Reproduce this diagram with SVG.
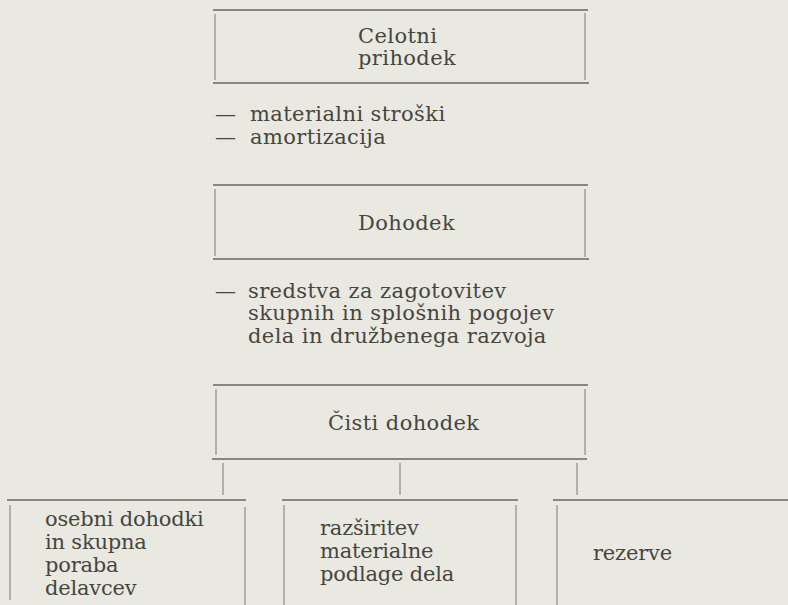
<svg xmlns="http://www.w3.org/2000/svg" width="788" height="605" viewBox="0 0 788 605">
<style>
  .bg { fill: #eae9e1; }
  .h { stroke: #66665f; stroke-width: 1.3; fill: none; }
  .v { stroke: #7a7a73; stroke-width: 1; fill: none; }
  .t { font-family: "DejaVu Serif", "Liberation Serif", serif; font-size: 21px; fill: #46463f; letter-spacing: 0.4px; }
  .s { font-family: "DejaVu Serif", "Liberation Serif", serif; font-size: 21px; fill: #46463f; letter-spacing: -0.2px; }
</style>
<rect class="bg" x="0" y="0" width="788" height="605"/>

<g id="celotni-prihodek">
  <line class="h" x1="213" y1="10" x2="588" y2="10"/>
  <line class="v" x1="215" y1="14" x2="215" y2="80"/>
  <line class="v" x1="585" y1="13" x2="585" y2="80"/>
  <line class="h" x1="213" y1="83" x2="589" y2="83"/>
  <text class="t" x="358" y="43">Celotni</text>
  <text class="t" x="358" y="65">prihodek</text>
</g>

<g id="odbitki-1">
  <text class="t" x="215" y="121">—<tspan x="250">materialni stroški</tspan></text>
  <text class="t" x="215" y="144">—<tspan x="250">amortizacija</tspan></text>
</g>

<g id="dohodek">
  <line class="h" x1="213" y1="185" x2="588" y2="185"/>
  <line class="v" x1="215" y1="189" x2="215" y2="256"/>
  <line class="v" x1="585" y1="189" x2="585" y2="257"/>
  <line class="h" x1="213" y1="259" x2="589" y2="259"/>
  <text class="t" x="358" y="230">Dohodek</text>
</g>

<g id="odbitki-2">
  <text class="t" x="215" y="298">—<tspan x="248">sredstva za zagotovitev</tspan></text>
  <text class="t" x="248" y="320">skupnih in splošnih pogojev</text>
  <text class="t" x="248" y="343">dela in družbenega razvoja</text>
</g>

<g id="cisti-dohodek">
  <line class="h" x1="213" y1="385" x2="588" y2="385"/>
  <line class="v" x1="216" y1="389" x2="216" y2="455"/>
  <line class="v" x1="585" y1="389" x2="585" y2="455"/>
  <line class="h" x1="212" y1="459" x2="587" y2="459"/>
  <text class="t" x="328" y="430">Čisti dohodek</text>
</g>

<g id="connectors">
  <line class="v" x1="223" y1="463" x2="223" y2="495"/>
  <line class="v" x1="400" y1="463" x2="400" y2="495"/>
  <line class="v" x1="577" y1="463" x2="577" y2="495"/>
</g>

<g id="osebni-dohodki">
  <line class="h" x1="7" y1="500" x2="246" y2="500"/>
  <line class="v" x1="10" y1="505" x2="10" y2="600"/>
  <line class="v" x1="245" y1="507" x2="245" y2="605"/>
  <text class="s" x="45" y="526">osebni dohodki</text>
  <text class="s" x="45" y="549">in skupna</text>
  <text class="s" x="45" y="572">poraba</text>
  <text class="s" x="45" y="595">delavcev</text>
</g>

<g id="razsiritev">
  <line class="h" x1="282" y1="500" x2="518" y2="500"/>
  <line class="v" x1="284" y1="505" x2="284" y2="605"/>
  <line class="v" x1="516" y1="505" x2="516" y2="605"/>
  <text class="s" x="320" y="535">razširitev</text>
  <text class="s" x="320" y="558">materialne</text>
  <text class="s" x="320" y="581">podlage dela</text>
</g>

<g id="rezerve">
  <line class="h" x1="553" y1="500" x2="788" y2="500"/>
  <line class="v" x1="557" y1="505" x2="557" y2="605"/>
  <text class="s" x="593" y="560">rezerve</text>
</g>
</svg>
